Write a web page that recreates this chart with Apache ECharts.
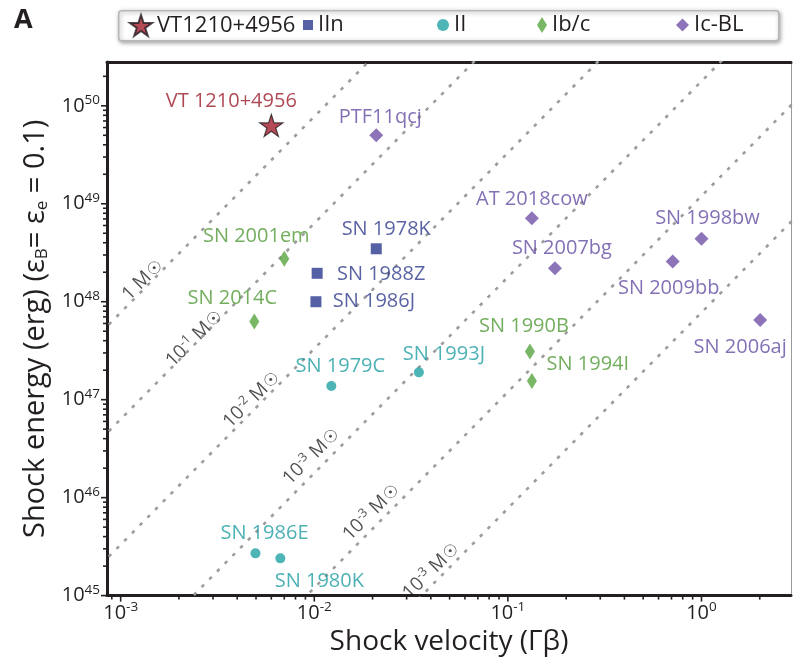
<!DOCTYPE html>
<html><head><meta charset="utf-8">
<script src="https://cdn.jsdelivr.net/npm/echarts@6/dist/echarts.min.js"></script>
<style>html,body{margin:0;padding:0;background:#fff}#c{width:794px;height:661px}</style>
</head><body><div id="c"></div>
<script>
const FONT = "'Open Sans', 'DejaVu Sans', sans-serif";

// ---------------- data ----------------
const vtNames = ['VT 1210+4956'];
const vtX = [6.0e-3];
const vtY = [6.3e49];

const iinNames = ['SN 1978K', 'SN 1988Z', 'SN 1986J'];
const iinX = [0.0209, 0.01035, 0.0102];
const iinY = [3.47e48, 1.95e48, 1.0e48];

const iiNames = ['SN 1979C', 'SN 1993J', 'SN 1986E', 'SN 1980K'];
const iiX = [0.01225, 0.0347, 4.97e-3, 6.68e-3];
const iiY = [1.38e47, 1.9e47, 2.7e45, 2.4e45];

const ibcNames = ['SN 2001em', 'SN 2014C', 'SN 1990B', 'SN 1994I'];
const ibcX = [7.0e-3, 4.9e-3, 0.130, 0.133];
const ibcY = [2.75e48, 6.3e47, 3.1e47, 1.55e47];

const icblNames = ['PTF11qcj', 'AT 2018cow', 'SN 2007bg', 'SN 1998bw', 'SN 2009bb', 'SN 2006aj'];
const icblX = [0.0209, 0.133, 0.175, 1.0, 0.71, 2.01];
const icblY = [5.0e49, 7.1e48, 2.2e48, 4.4e48, 2.57e48, 6.5e47];

// constant-mass guide lines (end points, extended past the frame and clipped)
const massExp = [0, -1, -2, -3, -3, -3];
const massLineX = [5e-4, 5];
const massLineLoY = [1.94e47, 1.58e46, 8.28e44, 4.45e43, 3.0e42, 1.94e41];
const massLineHiY = [1.94e55, 1.58e54, 8.28e52, 4.45e51, 3.0e50, 1.94e49];

// axis ranges and ticks
const X_MIN = 8.5e-4, X_MAX = 2.9;
const Y_MIN = 1e45, Y_MAX = 2.8e50;
const xTickExps = [-3, -2, -1, 0];
const yTickExps = [45, 46, 47, 48, 49, 50];

// ---------------- layout / style (not data) ----------------
const labelOffset = {
  'VT 1210+4956': [-40, -24], 'PTF11qcj': [4, -18],
  'SN 2001em': [-28, -22], 'SN 1978K': [10, -19], 'SN 1988Z': [64, 1],
  'SN 2014C': [-22, -23], 'SN 1986J': [58, 0], 'AT 2018cow': [0, -19],
  'SN 1998bw': [6, -20], 'SN 2007bg': [7, -20], 'SN 2009bb': [-4, 27],
  'SN 2006aj': [-20, 27], 'SN 1990B': [-6, -25], 'SN 1994I': [56, -17],
  'SN 1979C': [9, -20], 'SN 1993J': [25, -18], 'SN 1986E': [9, -20],
  'SN 1980K': [39, 23]
};
const massLabelAtX = [1.30e-3, 2.40e-3, 4.74e-3, 9.65e-3, 1.97e-2, 4.01e-2];
const massLabelAtY = [1.66e48, 4.2e47, 1.0e47, 2.63e46, 7.08e45, 1.78e45];

const STAR = 'path://M50,0L61.23,34.55L97.55,34.55L68.17,55.9L79.39,90.45L50,69.1L20.61,90.45L31.83,55.9L2.45,34.55L38.77,34.55Z';
const C_VT = '#a51d2d', C_IIN = '#2b388f', C_II = '#22a3a4', C_IBC = '#57a43f', C_ICBL = '#7051a8';
const INK = '#231f20';

function pts(names, xs, ys) {
  return names.map((n, i) => ({ name: n, value: [xs[i], ys[i]], label: { offset: labelOffset[n] } }));
}
function ptLabel(color) {
  return { show: true, position: 'inside', formatter: '{b}', fontSize: 20, fontFamily: FONT, color: color };
}

// minor / major ticks on log axes
const xMinor = [], yMinor = [];
for (let e = -4; e <= 0; e++) for (let m = 2; m <= 9; m++) { const v = m * Math.pow(10, e); if (v > X_MIN && v < X_MAX) xMinor.push(v); }
for (let e = 45; e <= 50; e++) for (let m = 2; m <= 9; m++) { const v = m * Math.pow(10, e); if (v > Y_MIN && v < Y_MAX) yMinor.push(v); }

function tickSeries(values, isX, len) {
  return {
    type: 'custom', silent: true, clip: false, z: 6,
    renderItem: (params, api) => {
      const p = api.coord([api.value(0), api.value(1)]);
      const shape = isX ? { x1: p[0], y1: p[1] + 1, x2: p[0], y2: p[1] + 1 + len }
                        : { x1: p[0] - 1, y1: p[1], x2: p[0] - 1 - len, y2: p[1] };
      return { type: 'line', shape: shape, style: { stroke: INK, lineWidth: 1.6 } };
    },
    data: values.map(v => isX ? [v, Y_MIN] : [X_MIN, v])
  };
}

const supRich = {
  b: { fontSize: 20, fontFamily: FONT, color: INK },
  s: { fontSize: 13.5, fontFamily: FONT, color: INK, padding: [0, 0, 11, 0] }
};
function expLabel(v) {
  const e = Math.log10(v);
  if (Math.abs(e - Math.round(e)) > 1e-6) return '';
  return '{b|10}{s|' + Math.round(e) + '}';
}

const series = [];
// mass lines
massExp.forEach((e, i) => {
  series.push({
    type: 'line', silent: true, clip: true, z: 1, symbol: 'none', showSymbol: false,
    lineStyle: { color: '#9d9d9d', width: 2.6, type: [3.5, 7.5] },
    data: [[massLineX[0], massLineLoY[i]], [massLineX[1], massLineHiY[i]]]
  });
});
// mass line labels
series.push({
  type: 'scatter', silent: true, symbolSize: 0, z: 3,
  label: {
    show: true, position: 'inside', rotate: 45,
    formatter: p => (p.data.e === 0 ? '{m|1 M}{o|☉}' : '{m|10}{s|' + p.data.e + '}{m| M}{o|☉}'),
    rich: {
      m: { fontSize: 19, fontFamily: FONT, color: INK },
      o: { fontSize: 17, fontFamily: 'DejaVu Sans', color: INK, padding: [2, 0, 0, 1] },
      s: { fontSize: 12.5, fontFamily: FONT, color: INK, padding: [0, 0, 10, 0] }
    }
  },
  data: massExp.map((e, i) => ({ value: [massLabelAtX[i], massLabelAtY[i]], e: e }))
});

series.push({
  name: 'VT1210+4956', type: 'scatter', symbol: STAR, symbolSize: 23, symbolKeepAspect: true, z: 10,
  itemStyle: { color: C_VT, borderColor: INK, borderWidth: 1.2 },
  label: ptLabel('#9a1b28'), data: pts(vtNames, vtX, vtY)
});
series.push({
  name: 'IIn', type: 'scatter', symbol: 'rect', symbolSize: 11, z: 10,
  itemStyle: { color: C_IIN }, label: ptLabel('#2f3b8c'), data: pts(iinNames, iinX, iinY)
});
series.push({
  name: 'II', type: 'scatter', symbol: 'circle', symbolSize: 10, z: 10,
  itemStyle: { color: C_II }, label: ptLabel('#1f9ea2'), data: pts(iiNames, iiX, iiY)
});
series.push({
  name: 'Ib/c', type: 'scatter', symbol: 'diamond', symbolSize: [10, 16], z: 10,
  itemStyle: { color: C_IBC }, label: ptLabel('#4f9a36'), data: pts(ibcNames, ibcX, ibcY)
});
series.push({
  name: 'Ic-BL', type: 'scatter', symbol: 'diamond', symbolSize: 14, z: 10,
  itemStyle: { color: C_ICBL }, label: ptLabel('#654ca2'), data: pts(icblNames, icblX, icblY)
});
// ticks
series.push(tickSeries(xMinor, true, 3));
series.push(tickSeries(yMinor, false, 3));
series.push(tickSeries(xTickExps.map(e => Math.pow(10, e)), true, 5));
series.push(tickSeries(yTickExps.map(e => Math.pow(10, e)), false, 5));

const legText = { fontSize: 22, fontFamily: FONT, color: INK };
function leg(name, left, w, h) {
  return { data: [name], left: left, top: 14, padding: 0, itemWidth: w, itemHeight: h, textStyle: legText, selectedMode: false };
}

const option = {
  animation: false,
  backgroundColor: '#fff',
  grid: { left: 107, right: 1, top: 62, bottom: 54, containLabel: false },
  legend: [
    leg('VT1210+4956', 129, 22, 22),
    leg('IIn', 303, 10, 10),
    leg('II', 437, 12, 12),
    leg('Ib/c', 537, 10, 16),
    leg('Ic-BL', 676, 13, 13)
  ],
  graphic: [
    { type: 'rect', left: 118, top: 10, z: 0,
      shape: { width: 660, height: 30, r: 3 },
      style: { fill: '#fff', stroke: '#b8b8b8', lineWidth: 1.5, shadowBlur: 4, shadowColor: 'rgba(0,0,0,0.35)', shadowOffsetX: 1, shadowOffsetY: 1.5 } },
    { type: 'text', left: 14, top: 7, z: 1,
      style: { text: 'A', font: 'bold 27px "Open Sans"', fill: INK } }
  ],
  xAxis: [
    {
      type: 'log', logBase: 10, min: X_MIN, max: X_MAX, position: 'bottom',
      axisLine: { show: true, lineStyle: { color: INK, width: 3 } },
      axisTick: { show: false }, splitLine: { show: false }, minorTick: { show: false },
      axisLabel: { margin: 5, formatter: expLabel, rich: supRich },
      name: 'Shock velocity (Γβ)', nameLocation: 'middle', nameGap: 20,
      nameTextStyle: { fontSize: 28, fontFamily: FONT, color: INK }
    },
    {
      type: 'log', logBase: 10, min: X_MIN, max: X_MAX, position: 'top',
      axisLine: { show: true, lineStyle: { color: INK, width: 3 } },
      axisTick: { show: false }, axisLabel: { show: false }, splitLine: { show: false }
    }
  ],
  yAxis: [
    {
      type: 'log', logBase: 10, min: Y_MIN, max: Y_MAX, position: 'left',
      axisLine: { show: true, lineStyle: { color: INK, width: 3 } },
      axisTick: { show: false }, splitLine: { show: false }, minorTick: { show: false },
      axisLabel: { margin: 7, formatter: expLabel, rich: supRich },
      name: 'Shock energy (erg) (ε{sub|B}= ε{sub|e} = 0.1)', nameLocation: 'middle', nameGap: 43, nameRotate: 90,
      nameTextStyle: {
        fontSize: 29, fontFamily: FONT, color: INK,
        rich: { sub: { fontSize: 17, fontFamily: FONT, color: INK, padding: [13, 0, 0, 0] } }
      }
    },
    {
      type: 'log', logBase: 10, min: Y_MIN, max: Y_MAX, position: 'right',
      axisLine: { show: true, lineStyle: { color: '#9a9a9a', width: 1 } },
      axisTick: { show: false }, axisLabel: { show: false }, splitLine: { show: false }
    }
  ],
  series: series
};
const chart = echarts.init(document.getElementById('c'));
chart.setOption(option);
</script>
</body></html>
